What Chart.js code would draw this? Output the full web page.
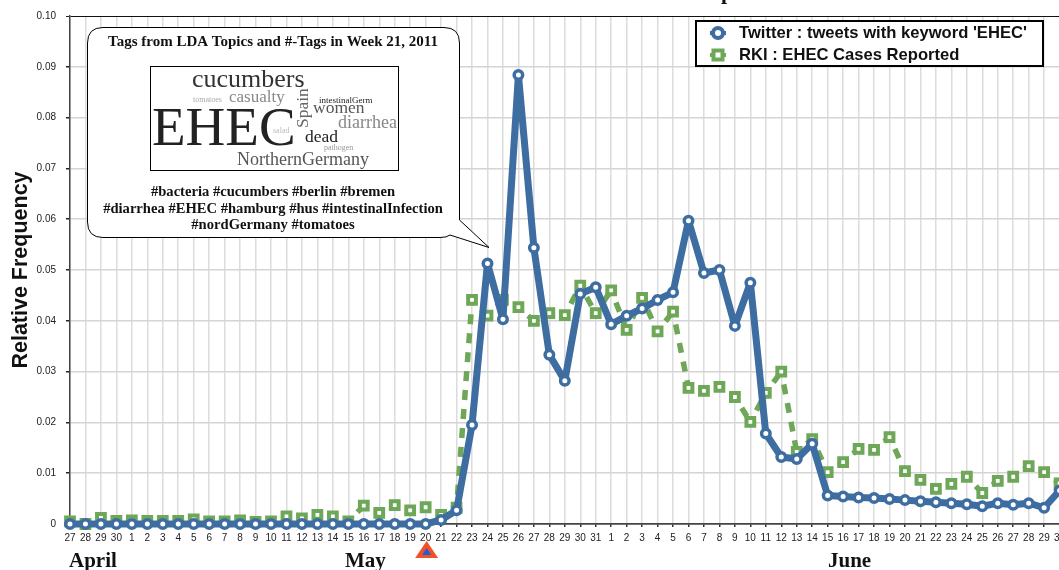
<!DOCTYPE html>
<html>
<head>
<meta charset="utf-8">
<title>EHEC</title>
<script src="https://cdn.jsdelivr.net/npm/chart.js@4"></script>
<style>
  html, body { margin: 0; padding: 0; background: #fff; overflow: hidden; width: 1059px; height: 570px; }
  canvas { position: absolute; left: 0; top: 0; }
</style>
</head>
<body>
<canvas id="chart" width="1100" height="570"></canvas>
<script>
// Days from 27 April to 30 June 2011
const days = ["27","28","29","30",
  "1","2","3","4","5","6","7","8","9","10","11","12","13","14","15","16","17","18","19","20","21","22","23","24","25","26","27","28","29","30","31",
  "1","2","3","4","5","6","7","8","9","10","11","12","13","14","15","16","17","18","19","20","21","22","23","24","25","26","27","28","29","30"];

const twitter = [0,0,0,0,
  0,0,0,0,0,0,0,0,0,0,0,0,0,0,0,0,0,0,0,0,0.0008,0.0027,0.0195,0.0513,0.0403,0.0884,0.0544,0.0333,0.0282,0.0453,0.0466,
  0.0393,0.0410,0.0424,0.0441,0.0456,0.0597,0.0494,0.0500,0.0390,0.0475,0.0178,0.0132,0.0128,0.0158,0.0056,0.0054,0.0052,0.0051,0.0049,0.0047,0.0045,0.0043,0.0041,0.0039,0.0035,0.0041,0.0038,0.0041,0.0032,0.0066];

const rki = [0.0005,0,0.0012,0.0006,
  0.0007,0.0006,0.0006,0.0006,0.0009,0.0005,0.0005,0.0007,0.0004,0.0005,0.0015,0.0011,0.0018,0.0015,0.0005,0.0036,0.0022,0.0037,0.0027,0.0033,0.0018,0.0032,0.0441,0.0410,0.0441,0.0427,0.0400,0.0415,0.0411,0.0469,0.0415,
  0.0460,0.0382,0.0445,0.0379,0.0418,0.0268,0.0262,0.0270,0.0250,0.0201,0.0258,0.0300,0.0142,0.0167,0.0102,0.0122,0.0148,0.0146,0.0171,0.0104,0.0087,0.0069,0.0079,0.0093,0.0061,0.0085,0.0093,0.0114,0.0102,0.0080];

const seriesNames = ["Twitter : tweets with keyword 'EHEC'", "RKI : EHEC Cases Reported"];
const months = [["April", 69], ["May", 345], ["June", 828]];
const hashTags = ["#bacteria #cucumbers #berlin #bremen", "#diarrhea #EHEC #hamburg #hus #intestinalInfection", "#nordGermany #tomatoes"];

// word, left x, baseline y, px size, colour
const cloudWords = [
  ["cucumbers", 192, 87, 26, "#333"],
  ["tomatoes", 193, 102, 8, "#aaa"],
  ["casualty", 229, 102, 17, "#888"],
  ["intestinalGerm", 319, 103, 9, "#222"],
  ["women", 313, 113, 17.5, "#555"],
  ["diarrhea", 338, 128, 18, "#888"],
  ["EHEC", 152, 145, 55, "#222"],
  ["salad", 273, 133, 8, "#bbb"],
  ["dead", 305, 142, 17.5, "#222"],
  ["pathogen", 324, 150, 8, "#999"],
  ["NorthernGermany", 237, 165, 18, "#555"]
];

const blue = "#3d6da1";
const green = "#6ea757";
const serif = "'Liberation Serif'";
const sans = "'Liberation Sans'";

function drawCallout(ctx) {
  ctx.save();
  ctx.beginPath();
  ctx.moveTo(103, 27.5);
  ctx.lineTo(444, 27.5);
  ctx.quadraticCurveTo(459.5, 27.5, 459.5, 43);
  ctx.lineTo(459.5, 220);
  ctx.lineTo(489, 247.5);
  ctx.lineTo(450, 235);
  ctx.quadraticCurveTo(447, 237.5, 440, 237.5);
  ctx.lineTo(103, 237.5);
  ctx.quadraticCurveTo(87.5, 237.5, 87.5, 222);
  ctx.lineTo(87.5, 43);
  ctx.quadraticCurveTo(87.5, 27.5, 103, 27.5);
  ctx.closePath();
  ctx.fillStyle = "#fff";
  ctx.fill();
  ctx.strokeStyle = "#000";
  ctx.lineWidth = 1;
  ctx.stroke();

  ctx.fillStyle = "#111";
  ctx.textAlign = "center";
  ctx.textBaseline = "alphabetic";
  ctx.font = "bold 15px " + serif;
  ctx.fillText("Tags from LDA Topics and #-Tags in Week 21, 2011", 273, 46);
  ctx.font = "bold 14.6px " + serif;
  ctx.fillText(hashTags[0], 273, 196);
  ctx.fillText(hashTags[1], 273, 213);
  ctx.fillText(hashTags[2], 273, 229);

  // word cloud
  ctx.strokeRect(150.5, 66.5, 248, 104);
  ctx.textAlign = "left";
  cloudWords.forEach(function (w) {
    ctx.font = w[3] + "px " + serif;
    ctx.fillStyle = w[4];
    ctx.fillText(w[0], w[1], w[2]);
  });
  ctx.save();
  ctx.translate(308, 128);
  ctx.rotate(-Math.PI / 2);
  ctx.font = "17.5px " + serif;
  ctx.fillStyle = "#666";
  ctx.fillText("Spain", 0, 0);
  ctx.restore();
  ctx.restore();
}

function drawLegend(ctx) {
  ctx.save();
  ctx.fillStyle = "#fff";
  ctx.fillRect(696, 21, 347, 45);
  ctx.strokeStyle = "#000";
  ctx.lineWidth = 2;
  ctx.strokeRect(696, 21, 347, 45);

  ctx.lineWidth = 4;
  ctx.strokeStyle = blue;
  ctx.beginPath();
  ctx.moveTo(710, 33);
  ctx.lineTo(726, 33);
  ctx.stroke();
  ctx.beginPath();
  ctx.arc(718, 33, 5, 0, Math.PI * 2);
  ctx.fillStyle = "#fff";
  ctx.fill();
  ctx.stroke();

  ctx.strokeStyle = green;
  ctx.beginPath();
  ctx.moveTo(710, 55);
  ctx.lineTo(726, 55);
  ctx.stroke();
  ctx.fillRect(713.5, 50.5, 9, 9);
  ctx.strokeRect(713.5, 50.5, 9, 9);

  ctx.fillStyle = "#111";
  ctx.font = "bold 16.6px " + sans;
  ctx.textAlign = "left";
  ctx.textBaseline = "middle";
  ctx.fillText(seriesNames[0], 739, 33.5);
  ctx.fillText(seriesNames[1], 739, 55.5);
  ctx.restore();
}

const extras = {
  id: "extras",
  beforeDatasetsDraw(chart) {
    drawCallout(chart.ctx);
  },
  afterDatasetsDraw(chart) {
    const ctx = chart.ctx;
    drawLegend(ctx);

    // what is left of the title, cut off by the top of the picture
    ctx.save();
    ctx.fillStyle = "#111";
    ctx.font = "bold 22px " + serif;
    ctx.textAlign = "left";
    ctx.textBaseline = "alphabetic";
    ctx.fillText("p", 721, -1);

    // month names
    ctx.font = "bold 21px " + serif;
    ctx.fillStyle = "#111";
    months.forEach(function (m) {
      ctx.fillText(m[0], m[1], 567);
    });

    // marker under 20 May
    const x = chart.scales.x.getPixelForValue(23);
    ctx.beginPath();
    ctx.moveTo(x + 1, 541);
    ctx.lineTo(x + 12.5, 558);
    ctx.lineTo(x - 10.5, 558);
    ctx.closePath();
    ctx.fillStyle = "#f0512a";
    ctx.fill();
    ctx.beginPath();
    ctx.moveTo(x + 1, 548);
    ctx.lineTo(x + 5.5, 555);
    ctx.lineTo(x - 3.5, 555);
    ctx.closePath();
    ctx.fillStyle = "#1a5fd6";
    ctx.fill();
    ctx.restore();
  }
};

new Chart(document.getElementById("chart").getContext("2d"), {
  type: "line",
  data: {
    labels: days,
    datasets: [
      {
        label: seriesNames[0],
        data: twitter,
        borderColor: blue,
        borderWidth: 7,
        borderJoinStyle: "round",
        tension: 0,
        pointStyle: "circle",
        pointRadius: 4.25,
        pointBorderWidth: 3.5,
        pointBorderColor: blue,
        pointBackgroundColor: "#fff",
        clip: false
      },
      {
        label: seriesNames[1],
        data: rki,
        borderColor: green,
        borderWidth: 5.5,
        borderDash: [10, 9],
        // dash pattern starts over at every point, the tiny change makes chart.js stroke each segment on its own
        segment: { borderDashOffset: (c) => 6 + c.p0DataIndex * 0.0001 },
        tension: 0,
        pointStyle: "rect",
        pointRadius: 5.5,
        pointBorderWidth: 4,
        pointBorderColor: green,
        pointBackgroundColor: "#fff",
        clip: false
      }
    ]
  },
  options: {
    responsive: false,
    animation: false,
    layout: { padding: { top: 16, right: 1100 - 1059.6, left: 0, bottom: 0 } },
    plugins: { legend: { display: false }, tooltip: { enabled: false } },
    scales: {
      x: {
        afterFit(scale) { scale.height = 46; },
        grid: {
          color: "#dcdcdc",
          lineWidth: 1.5,
          tickColor: "#333",
          tickLength: 3
        },
        border: { color: "#444", width: 1.5 },
        ticks: {
          autoSkip: false,
          maxRotation: 0,
          padding: 5,
          color: "#222",
          font: { family: sans, size: 10 }
        }
      },
      y: {
        min: 0,
        max: 0.1,
        afterFit(scale) { scale.width = 70; },
        grid: {
          color(c) { return c.tick.value === 0.1 ? "#111" : c.tick.value === 0 ? "#444" : "#d4d4d4"; },
          lineWidth(c) { return c.tick.value === 0.1 ? 1 : 1.5; },
          tickColor: "#222",
          tickLength: 4
        },
        border: { color: "#444", width: 1.5 },
        title: {
          display: true,
          text: "Relative Frequency",
          color: "#111",
          font: { family: sans, size: 21.5, weight: "bold" },
          padding: { top: 8, bottom: 0 }
        },
        ticks: {
          stepSize: 0.01,
          padding: 10,
          color: "#222",
          font: { family: sans, size: 10 },
          callback(v) { return v === 0 ? "0" : v.toFixed(2); }
        }
      }
    }
  },
  plugins: [extras]
});
</script>
</body>
</html>
